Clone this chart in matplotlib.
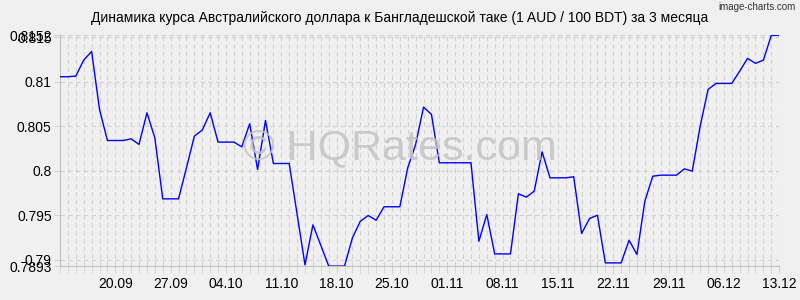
import matplotlib
matplotlib.use("Agg")
import matplotlib.pyplot as plt
import pandas as pd

# daily AUD/BDT rate (per 100 BDT), 13.09.2025 - 13.12.2025
rates = [
    0.81056, 0.81056, 0.81063, 0.81243, 0.81340, 0.80689, 0.80340, 0.80340,
    0.80340, 0.80359, 0.80296, 0.80651, 0.80370, 0.79685, 0.79685, 0.79685,
    0.80034, 0.80389, 0.80457, 0.80651, 0.80322, 0.80322, 0.80322, 0.80269,
    0.80528, 0.80015, 0.80565, 0.80082, 0.80082, 0.80082, 0.79512, 0.78944,
    0.79393, 0.79164, 0.78930, 0.78930, 0.78930, 0.79247, 0.79434, 0.79498,
    0.79445, 0.79596, 0.79596, 0.79596, 0.80034, 0.80296, 0.80715, 0.80633,
    0.80090, 0.80090, 0.80090, 0.80090, 0.80090, 0.79209, 0.79509, 0.79067,
    0.79067, 0.79067, 0.79742, 0.79704, 0.79771, 0.80213, 0.79921, 0.79921,
    0.79921, 0.79933, 0.79296, 0.79464, 0.79501, 0.78966, 0.78966, 0.78966,
    0.79220, 0.79060, 0.79658, 0.79939, 0.79951, 0.79951, 0.79951, 0.80022,
    0.79996, 0.80501, 0.80913, 0.80981, 0.80981, 0.80981, 0.81119, 0.81262,
    0.81206, 0.81243, 0.81520, 0.81520,
]
dates = pd.date_range("2025-09-13", periods=len(rates), freq="D")
y_ticks = [0.7893, 0.79, 0.795, 0.8, 0.805, 0.81, 0.815, 0.8152]

title = "Динамика курса Австралийского доллара к Бангладешской таке (1 AUD / 100 BDT) за 3 месяца"

plt.rcParams["font.family"] = ["Liberation Sans", "DejaVu Sans"]
bg = "#f0f0f0"
grid_c = "#d2d2d2"

fig = plt.figure(figsize=(8, 3), dpi=100, facecolor=bg)
ax = fig.add_axes([0.075, 0.113, 0.899, 0.769], facecolor=bg)

x = list(range(len(rates)))
ax.plot(x, rates, color="#0000ff", lw=1.0, zorder=3)

ax.set_xlim(0, len(rates) - 1)
ax.set_ylim(min(y_ticks), max(y_ticks))

major_x = [i for i, d in enumerate(dates) if d.dayofweek == 5 and i > 0]
ax.set_xticks(major_x)
ax.set_xticklabels([dates[i].strftime("%d.%m") for i in major_x])
ax.set_xticks(x, minor=True)
ax.set_yticks(y_ticks)
ax.set_yticklabels([f"{v:g}" for v in y_ticks])

ax.grid(True, which="both", axis="x", color=grid_c, lw=0.8, ls=(0, (4, 3)))
ax.grid(True, which="major", axis="y", color=grid_c, lw=0.8, ls=(0, (4, 3)))
ax.tick_params(which="both", axis="x", length=5, color=grid_c, labelsize=10, pad=3)
ax.tick_params(axis="y", length=4, color=grid_c, labelsize=10, pad=2)

for s in ("top", "right"):
    ax.spines[s].set_visible(False)
for s in ("left", "bottom"):
    ax.spines[s].set_color("#c0c0c0")
    ax.spines[s].set_linewidth(0.8)

fig.text(0.5, 0.94, title, ha="center", va="center", fontsize=10)
fig.text(0.994, 0.975, "image-charts.com", ha="right", va="center", fontsize=7, color="#333333")
fig.text(0.5, 0.505, "© HQRates.com", ha="center", va="center", fontsize=31,
         color="#c4c4c4", alpha=0.85, zorder=1)

plt.savefig("out.png", dpi=100, facecolor=bg)
